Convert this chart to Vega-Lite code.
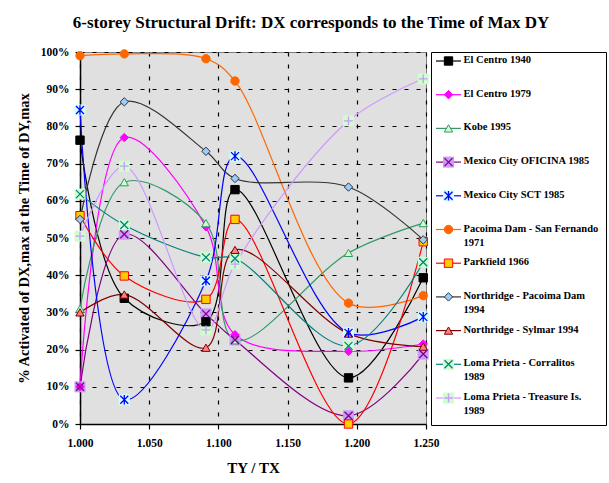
{
  "$schema": "https://vega.github.io/schema/vega-lite/v6.json",
  "padding": {"left": 15, "top": 13, "right": 0, "bottom": 5},
  "background": "white",
  "bounds": "flush",
  "title": {"text": "6-storey Structural Drift: DX corresponds to the Time of Max DY", "font": "Liberation Serif", "fontSize": 17, "fontWeight": "bold", "anchor": "middle", "offset": 14, "color": "#000000"},
  "spacing": 5,
  "datasets": {
    "drift": [
      {"series": "El Centro 1940", "tr": 1.000, "pct": 76.3},
      {"series": "El Centro 1940", "tr": 1.032, "pct": 33.8},
      {"series": "El Centro 1940", "tr": 1.091, "pct": 27.5},
      {"series": "El Centro 1940", "tr": 1.112, "pct": 63.0},
      {"series": "El Centro 1940", "tr": 1.194, "pct": 12.4},
      {"series": "El Centro 1940", "tr": 1.248, "pct": 39.3},
      {"series": "El Centro 1979", "tr": 1.000, "pct": 10.0},
      {"series": "El Centro 1979", "tr": 1.032, "pct": 77.0},
      {"series": "El Centro 1979", "tr": 1.091, "pct": 53.0},
      {"series": "El Centro 1979", "tr": 1.112, "pct": 24.0},
      {"series": "El Centro 1979", "tr": 1.194, "pct": 19.5},
      {"series": "El Centro 1979", "tr": 1.248, "pct": 21.5},
      {"series": "Kobe 1995", "tr": 1.000, "pct": 31.0},
      {"series": "Kobe 1995", "tr": 1.032, "pct": 65.0},
      {"series": "Kobe 1995", "tr": 1.091, "pct": 54.0},
      {"series": "Kobe 1995", "tr": 1.112, "pct": 22.5},
      {"series": "Kobe 1995", "tr": 1.194, "pct": 46.0},
      {"series": "Kobe 1995", "tr": 1.248, "pct": 54.0},
      {"series": "Mexico City OFICINA 1985", "tr": 1.000, "pct": 10.0},
      {"series": "Mexico City OFICINA 1985", "tr": 1.032, "pct": 51.0},
      {"series": "Mexico City OFICINA 1985", "tr": 1.091, "pct": 29.6},
      {"series": "Mexico City OFICINA 1985", "tr": 1.112, "pct": 22.6},
      {"series": "Mexico City OFICINA 1985", "tr": 1.194, "pct": 2.2},
      {"series": "Mexico City OFICINA 1985", "tr": 1.248, "pct": 18.8},
      {"series": "Mexico City SCT 1985", "tr": 1.000, "pct": 84.4},
      {"series": "Mexico City SCT 1985", "tr": 1.032, "pct": 6.5},
      {"series": "Mexico City SCT 1985", "tr": 1.091, "pct": 38.5},
      {"series": "Mexico City SCT 1985", "tr": 1.112, "pct": 72.0},
      {"series": "Mexico City SCT 1985", "tr": 1.194, "pct": 24.5},
      {"series": "Mexico City SCT 1985", "tr": 1.248, "pct": 28.8},
      {"series": "Pacoima Dam - San Fernando 1971", "tr": 1.000, "pct": 99.0},
      {"series": "Pacoima Dam - San Fernando 1971", "tr": 1.032, "pct": 99.5},
      {"series": "Pacoima Dam - San Fernando 1971", "tr": 1.091, "pct": 98.2},
      {"series": "Pacoima Dam - San Fernando 1971", "tr": 1.112, "pct": 92.2},
      {"series": "Pacoima Dam - San Fernando 1971", "tr": 1.194, "pct": 32.5},
      {"series": "Pacoima Dam - San Fernando 1971", "tr": 1.248, "pct": 34.5},
      {"series": "Parkfield 1966", "tr": 1.000, "pct": 56.0},
      {"series": "Parkfield 1966", "tr": 1.032, "pct": 39.8},
      {"series": "Parkfield 1966", "tr": 1.091, "pct": 33.5},
      {"series": "Parkfield 1966", "tr": 1.112, "pct": 55.0},
      {"series": "Parkfield 1966", "tr": 1.194, "pct": 0.0},
      {"series": "Parkfield 1966", "tr": 1.248, "pct": 49.0},
      {"series": "Northridge - Pacoima Dam 1994", "tr": 1.000, "pct": 55.0},
      {"series": "Northridge - Pacoima Dam 1994", "tr": 1.032, "pct": 86.6},
      {"series": "Northridge - Pacoima Dam 1994", "tr": 1.091, "pct": 73.3},
      {"series": "Northridge - Pacoima Dam 1994", "tr": 1.112, "pct": 66.0},
      {"series": "Northridge - Pacoima Dam 1994", "tr": 1.194, "pct": 63.7},
      {"series": "Northridge - Pacoima Dam 1994", "tr": 1.248, "pct": 49.5},
      {"series": "Northridge - Sylmar 1994", "tr": 1.000, "pct": 30.0},
      {"series": "Northridge - Sylmar 1994", "tr": 1.032, "pct": 34.8},
      {"series": "Northridge - Sylmar 1994", "tr": 1.091, "pct": 20.5},
      {"series": "Northridge - Sylmar 1994", "tr": 1.112, "pct": 46.8},
      {"series": "Northridge - Sylmar 1994", "tr": 1.194, "pct": 24.3},
      {"series": "Northridge - Sylmar 1994", "tr": 1.248, "pct": 20.8},
      {"series": "Loma Prieta - Corralitos 1989", "tr": 1.000, "pct": 61.8},
      {"series": "Loma Prieta - Corralitos 1989", "tr": 1.032, "pct": 53.5},
      {"series": "Loma Prieta - Corralitos 1989", "tr": 1.091, "pct": 44.8},
      {"series": "Loma Prieta - Corralitos 1989", "tr": 1.112, "pct": 44.5},
      {"series": "Loma Prieta - Corralitos 1989", "tr": 1.194, "pct": 21.0},
      {"series": "Loma Prieta - Corralitos 1989", "tr": 1.248, "pct": 43.5},
      {"series": "Loma Prieta - Treasure Is. 1989", "tr": 1.000, "pct": 50.5},
      {"series": "Loma Prieta - Treasure Is. 1989", "tr": 1.032, "pct": 69.3},
      {"series": "Loma Prieta - Treasure Is. 1989", "tr": 1.091, "pct": 25.3},
      {"series": "Loma Prieta - Treasure Is. 1989", "tr": 1.112, "pct": 43.0},
      {"series": "Loma Prieta - Treasure Is. 1989", "tr": 1.194, "pct": 81.5},
      {"series": "Loma Prieta - Treasure Is. 1989", "tr": 1.248, "pct": 92.8}
    ],
    "legend": [
      {"series": "El Centro 1940", "label": "El Centro 1940"},
      {"series": "El Centro 1979", "label": "El Centro 1979"},
      {"series": "Kobe 1995", "label": "Kobe 1995"},
      {"series": "Mexico City OFICINA 1985", "label": "Mexico City OFICINA 1985"},
      {"series": "Mexico City SCT 1985", "label": "Mexico City SCT 1985"},
      {"series": "Pacoima Dam - San Fernando 1971", "label": "Pacoima Dam - San Fernando\n1971"},
      {"series": "Parkfield 1966", "label": "Parkfield 1966"},
      {"series": "Northridge - Pacoima Dam 1994", "label": "Northridge - Pacoima Dam\n1994"},
      {"series": "Northridge - Sylmar 1994", "label": "Northridge - Sylmar 1994"},
      {"series": "Loma Prieta - Corralitos 1989", "label": "Loma Prieta - Corralitos\n1989"},
      {"series": "Loma Prieta - Treasure Is. 1989", "label": "Loma Prieta - Treasure Is.\n1989"}
    ]
  },
  "hconcat": [
    {
      "width": 346,
      "height": 372,
      "view": {"fill": "#e0e0e0", "stroke": "#808080", "strokeWidth": 1},
      "data": {"name": "drift"},
      "encoding": {
        "x": {"field": "tr", "type": "quantitative", "scale": {"domain": [1, 1.25], "nice": false, "zero": false},
              "axis": {"values": [1, 1.05, 1.1, 1.15, 1.2, 1.25], "format": ".3f", "title": "TY / TX", "titleFontSize": 15, "titlePadding": 12}},
        "y": {"field": "pct", "type": "quantitative", "scale": {"domain": [0, 100], "nice": false},
              "axis": {"values": [0, 10, 20, 30, 40, 50, 60, 70, 80, 90, 100], "labelExpr": "datum.value + '%'", "title": "% Activated of DX,max at the Time of DY,max", "titleFontSize": 14.5, "titlePadding": 9}}
      },
      "layer": [
        {
          "mark": {"type": "line", "interpolate": "catmull-rom", "strokeWidth": 1.2},
          "encoding": {
            "stroke": {"field": "series", "type": "nominal", "legend": null,
              "scale": {"domain": ["El Centro 1940", "El Centro 1979", "Kobe 1995", "Mexico City OFICINA 1985", "Mexico City SCT 1985", "Pacoima Dam - San Fernando 1971", "Parkfield 1966", "Northridge - Pacoima Dam 1994", "Northridge - Sylmar 1994", "Loma Prieta - Corralitos 1989", "Loma Prieta - Treasure Is. 1989"],
                        "range": ["#000000", "#ff00ff", "#339966", "#800080", "#0000ff", "#ff6600", "#ff0000", "#333333", "#800000", "#008080", "#cc99ff"]}},
            "order": {"field": "tr"}
          }
        },
        {
          "transform": [{"filter": {"field": "series", "oneOf": ["Mexico City OFICINA 1985", "Mexico City SCT 1985", "Loma Prieta - Corralitos 1989", "Loma Prieta - Treasure Is. 1989"]}}],
          "mark": {"type": "point", "shape": "square", "filled": true, "size": 121, "opacity": 1},
          "encoding": {
            "fill": {"field": "series", "type": "nominal", "legend": null,
              "scale": {"domain": ["El Centro 1940", "El Centro 1979", "Kobe 1995", "Mexico City OFICINA 1985", "Mexico City SCT 1985", "Pacoima Dam - San Fernando 1971", "Parkfield 1966", "Northridge - Pacoima Dam 1994", "Northridge - Sylmar 1994", "Loma Prieta - Corralitos 1989", "Loma Prieta - Treasure Is. 1989"],
                        "range": ["#000000", "#ff00ff", "#ccffcc", "#cc99ff", "#ccffff", "#ff6600", "#ffcc00", "#99ccff", "#ff8080", "#ccffcc", "#ccffcc"]}}
          }
        },
        {
          "transform": [{"filter": {"field": "series", "oneOf": ["El Centro 1940", "El Centro 1979", "Kobe 1995", "Pacoima Dam - San Fernando 1971", "Parkfield 1966", "Northridge - Pacoima Dam 1994", "Northridge - Sylmar 1994"]}}],
          "mark": {"type": "point", "filled": true, "size": 70, "opacity": 1, "strokeWidth": 1},
          "encoding": {
            "fill": {"field": "series", "type": "nominal", "legend": null},
            "stroke": {"field": "series", "type": "nominal", "legend": null},
            "shape": {"field": "series", "type": "nominal", "legend": null,
              "scale": {"domain": ["El Centro 1940", "El Centro 1979", "Kobe 1995", "Mexico City OFICINA 1985", "Mexico City SCT 1985", "Pacoima Dam - San Fernando 1971", "Parkfield 1966", "Northridge - Pacoima Dam 1994", "Northridge - Sylmar 1994", "Loma Prieta - Corralitos 1989", "Loma Prieta - Treasure Is. 1989"],
                        "range": ["square", "diamond", "triangle-up", "M-1,-1L1,1M-1,1L1,-1", "M-1,-1L1,1M-1,1L1,-1M0,-1.2L0,1.2", "circle", "square", "diamond", "triangle-up", "M-1,-1L1,1M-1,1L1,-1", "M-1.1,0L1.1,0M0,-1.1L0,1.1"]}}
          }
        },
        {
          "transform": [{"filter": {"field": "series", "oneOf": ["Mexico City OFICINA 1985", "Mexico City SCT 1985", "Loma Prieta - Corralitos 1989", "Loma Prieta - Treasure Is. 1989"]}}],
          "mark": {"type": "point", "filled": false, "size": 64, "opacity": 1, "strokeWidth": 1.3},
          "encoding": {
            "stroke": {"field": "series", "type": "nominal", "legend": null},
            "shape": {"field": "series", "type": "nominal", "legend": null}
          }
        }
      ]
    },
    {
      "width": 175,
      "height": 373,
      "view": {"fill": "white", "stroke": "#000000", "strokeWidth": 1},
      "data": {"name": "legend"},
      "encoding": {
        "y": {"field": "series", "type": "nominal", "axis": null,
              "sort": ["El Centro 1940", "El Centro 1979", "Kobe 1995", "Mexico City OFICINA 1985", "Mexico City SCT 1985", "Pacoima Dam - San Fernando 1971", "Parkfield 1966", "Northridge - Pacoima Dam 1994", "Northridge - Sylmar 1994", "Loma Prieta - Corralitos 1989", "Loma Prieta - Treasure Is. 1989"],
              "scale": {"padding": 0.534, "align": 0.25}},
        "x": {"datum": 1, "type": "quantitative", "scale": {"domain": [0, 10]}, "axis": null}
      },
      "layer": [
        {
          "mark": {"type": "point", "shape": "stroke", "filled": false, "size": 625, "opacity": 1, "strokeWidth": 1.2},
          "encoding": {"stroke": {"field": "series", "type": "nominal", "legend": null}}
        },
        {
          "transform": [{"filter": {"field": "series", "oneOf": ["Mexico City OFICINA 1985", "Mexico City SCT 1985", "Loma Prieta - Corralitos 1989", "Loma Prieta - Treasure Is. 1989"]}}],
          "mark": {"type": "point", "shape": "square", "filled": true, "size": 121, "opacity": 1},
          "encoding": {"fill": {"field": "series", "type": "nominal", "legend": null}}
        },
        {
          "transform": [{"filter": {"field": "series", "oneOf": ["El Centro 1940", "El Centro 1979", "Kobe 1995", "Pacoima Dam - San Fernando 1971", "Parkfield 1966", "Northridge - Pacoima Dam 1994", "Northridge - Sylmar 1994"]}}],
          "mark": {"type": "point", "filled": true, "size": 70, "opacity": 1, "strokeWidth": 1},
          "encoding": {
            "fill": {"field": "series", "type": "nominal", "legend": null},
            "stroke": {"field": "series", "type": "nominal", "legend": null},
            "shape": {"field": "series", "type": "nominal", "legend": null}
          }
        },
        {
          "transform": [{"filter": {"field": "series", "oneOf": ["Mexico City OFICINA 1985", "Mexico City SCT 1985", "Loma Prieta - Corralitos 1989", "Loma Prieta - Treasure Is. 1989"]}}],
          "mark": {"type": "point", "filled": false, "size": 64, "opacity": 1, "strokeWidth": 1.3},
          "encoding": {
            "stroke": {"field": "series", "type": "nominal", "legend": null},
            "shape": {"field": "series", "type": "nominal", "legend": null}
          }
        },
        {
          "mark": {"type": "text", "align": "left", "baseline": "top", "dx": 15, "dy": -6, "font": "Liberation Serif", "fontWeight": "bold", "fontSize": 10.5, "lineHeight": 14, "lineBreak": "\n", "color": "#000000"},
          "encoding": {"text": {"field": "label", "type": "nominal"}}
        }
      ]
    }
  ],
  "config": {
    "font": "Liberation Serif",
    "legend": {"disable": true},
    "axis": {
      "domainColor": "#000000",
      "domainWidth": 1.5,
      "tickColor": "#000000",
      "tickSize": 5,
      "tickWidth": 1.2,
      "labelFont": "Liberation Serif",
      "labelFontWeight": "bold",
      "labelFontSize": 11.5,
      "labelColor": "#000000",
      "labelFlush": false,
      "titleFont": "Liberation Serif",
      "titleFontWeight": "bold",
      "titleColor": "#000000",
      "grid": true,
      "gridColor": "#000000",
      "gridDash": [4, 8],
      "gridWidth": 1.2,
      "gridOpacity": 1
    },
    "axisX": {"labelPadding": 8},
    "axisY": {"labelPadding": 6}
  }
}
